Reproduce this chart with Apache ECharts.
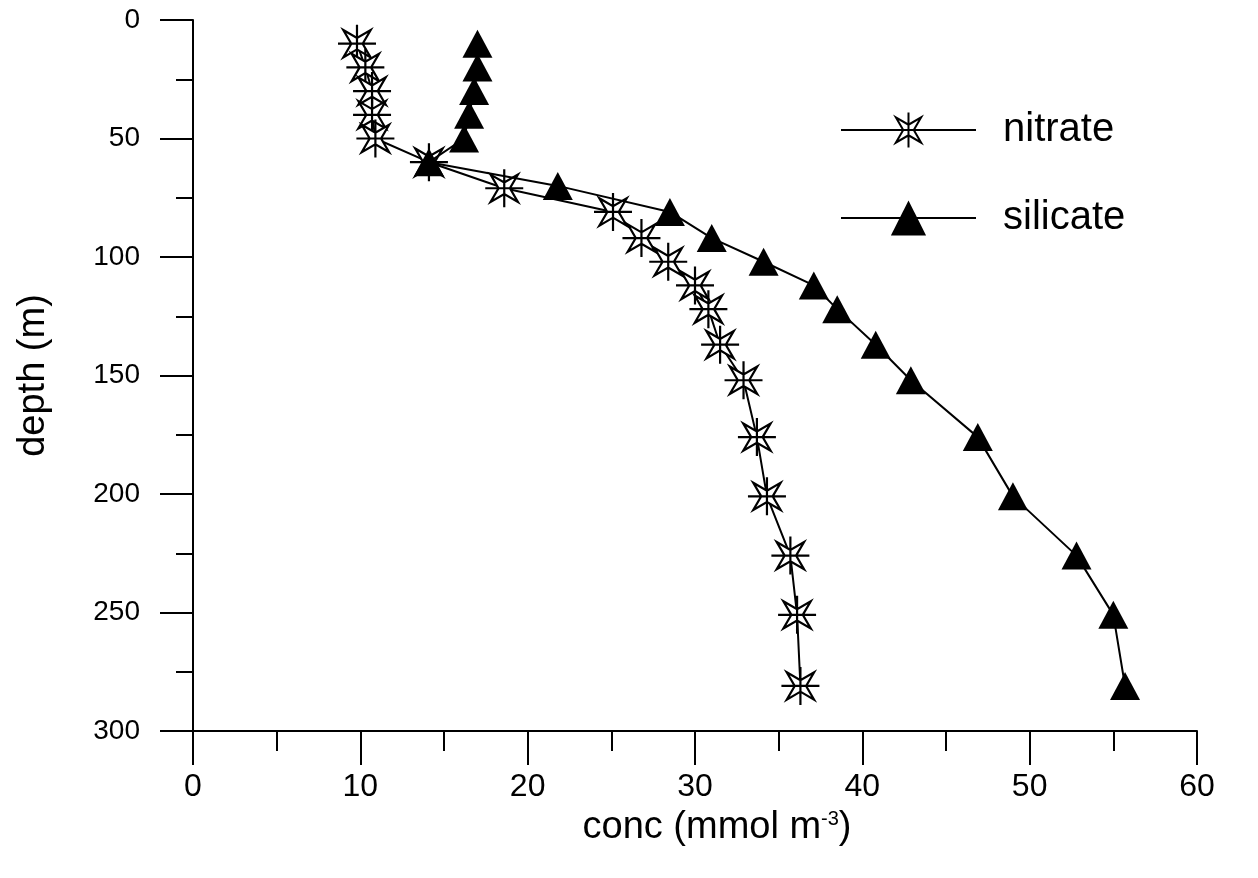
<!DOCTYPE html>
<html>
<head>
<meta charset="utf-8">
<script src="https://cdn.jsdelivr.net/npm/echarts@6/dist/echarts.min.js"></script>
<style>
html,body{margin:0;padding:0;background:#fff;}
#c{width:1258px;height:878px;}
</style>
</head>
<body>
<div id="c"></div>
<script>
// depth (m) of each sample
const nitrateDepth = [10,20,30,40,50,60,71,81,92,102,112,122,137,152,176,201,226,251,281];
const nitrateConc  = [9.8,10.3,10.7,10.7,10.9,14.1,18.6,25.1,26.8,28.4,30.0,30.8,31.5,32.9,33.7,34.3,35.7,36.1,36.3];
const silicateDepth = [10,20,30,40,50,60,70,81,92,102,112,122,137,152,176,201,226,251,281];
const silicateConc  = [17.0,17.0,16.8,16.5,16.2,14.1,21.8,28.5,31.0,34.1,37.1,38.5,40.8,42.9,46.9,49.0,52.8,55.0,55.7];
const seriesNames = ['nitrate','silicate'];
const xName = 'conc (mmol m{sup|-3})';
const yName = 'depth (m)';

const starPath = 'path://M50 0 L50 100 M0 50 L100 50 M14 14 L50 35 L86 14 L65 50 L86 86 L50 65 L14 86 L35 50 Z';

const pairs = (xs, ys) => xs.map((x, i) => [x, ys[i]]);

const chart = echarts.init(document.getElementById('c'), null, {renderer: 'canvas'});
const font = "'Liberation Sans', Arial, Helvetica, sans-serif";
chart.setOption({
  animation: false,
  backgroundColor: '#fff',
  grid: {left: 193, right: 61, top: 20, bottom: 147},
  legend: {
    orient: 'vertical', left: 840, top: 110, padding: 0,
    itemWidth: 135, itemHeight: 44, itemGap: 48,
    textStyle: {fontFamily: font, fontSize: 40, color: '#000', padding: [0,0,0,22]},
    data: seriesNames
  },
  xAxis: {
    type: 'value', min: 0, max: 60, interval: 10,
    name: xName, nameLocation: 'middle', nameGap: 78,
    nameTextStyle: {fontFamily: font, fontSize: 38, color: '#000', padding: [0,0,0,44],
      rich: {sup: {fontFamily: font, fontSize: 20, color: '#000', verticalAlign: 'top', padding: [0,0,18,0]}}},
    axisLine: {onZero: false, lineStyle: {color: '#000', width: 2}},
    axisTick: {length: 34, lineStyle: {color: '#000', width: 2}},
    minorTick: {show: true, splitNumber: 2, length: 20, lineStyle: {color: '#000', width: 2}},
    splitLine: {show: false}, minorSplitLine: {show: false},
    axisLabel: {fontFamily: "'Liberation Sans Narrow', 'Liberation Sans', Arial, sans-serif", fontSize: 32, color: '#000', margin: 40}
  },
  yAxis: {
    type: 'value', min: 0, max: 300, interval: 50, inverse: true,
    name: yName, nameLocation: 'middle', nameGap: 140,
    nameTextStyle: {fontFamily: font, fontSize: 38, color: '#000'},
    axisLine: {onZero: false, lineStyle: {color: '#000', width: 2}},
    axisTick: {length: 33, lineStyle: {color: '#000', width: 2}},
    minorTick: {show: true, splitNumber: 2, length: 17, lineStyle: {color: '#000', width: 2}},
    splitLine: {show: false}, minorSplitLine: {show: false},
    axisLabel: {fontFamily: font, fontSize: 28, color: '#000', margin: 53}
  },
  series: [
    {
      name: seriesNames[0], type: 'line', data: pairs(nitrateConc, nitrateDepth),
      symbol: starPath, symbolSize: 38,
      lineStyle: {color: '#000', width: 2},
      itemStyle: {color: '#fff', borderColor: '#000', borderWidth: 2.2},
      z: 2
    },
    {
      name: seriesNames[1], type: 'line', data: pairs(silicateConc, silicateDepth),
      symbol: 'triangle', symbolSize: [30, 28],
      lineStyle: {color: '#000', width: 2},
      itemStyle: {color: '#000', borderColor: '#000', borderWidth: 0},
      z: 3
    }
  ]
});
</script>
</body>
</html>
